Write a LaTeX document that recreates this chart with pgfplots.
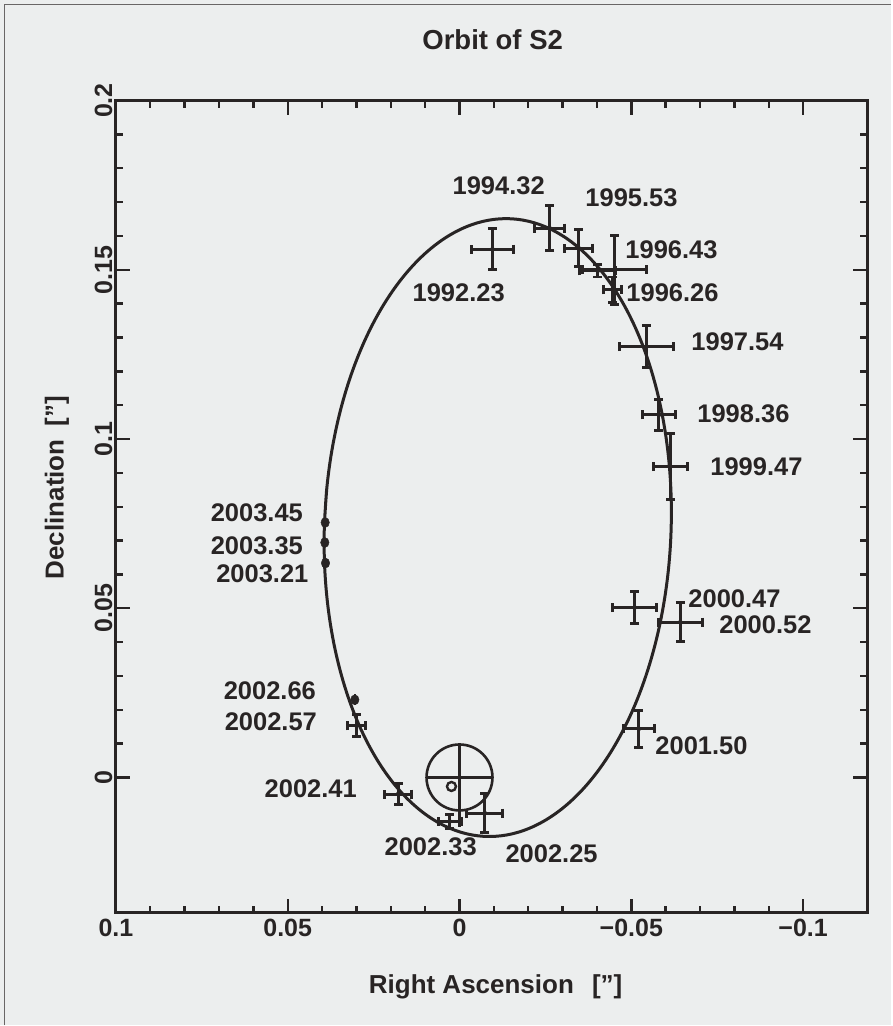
\documentclass[border=0pt]{standalone}
\usepackage{pgfplots}
\pgfplotsset{compat=1.18}
\usepackage{pgfplotstable}
\usepackage{fontspec}
\setmainfont{Liberation Sans}
\newcommand\heavy{\bfseries}
\definecolor{bg}{RGB}{236,238,238}
\definecolor{ink}{RGB}{40,36,36}

\pgfplotstableread{
x y ex ey
-0.00959 0.15610 0.0060 0.0061
-0.02625 0.16230 0.0044 0.0067
-0.03469 0.15640 0.0040 0.0054
-0.04516 0.14999 0.0093 0.0103
-0.04022 0.14968 0.0052 0.0018
-0.04458 0.14408 0.0026 0.0038
-0.05439 0.12733 0.0079 0.0061
-0.05805 0.10715 0.0047 0.0046
-0.06137 0.09188 0.0049 0.0097
-0.05098 0.05022 0.0064 0.0047
-0.06428 0.04591 0.0065 0.0058
-0.05223 0.01439 0.0045 0.0054
-0.00735 -0.01052 0.0053 0.0057
0.00284 -0.01300 0.0034 0.0021
0.01788 -0.00490 0.0040 0.0032
0.02998 0.01527 0.0026 0.0032
}\crosses

\pgfplotstableread{
x y ey
0.03900 0.06334 0.0012
0.03920 0.06942 0.0012
0.03910 0.07533 0.0012
0.03047 0.02295 0.0016
}\dots

\pgfplotstableread{
x y
0.039346 0.073840
0.038597 0.085755
0.036998 0.097467
0.034576 0.108773
0.031371 0.119483
0.027439 0.129411
0.022848 0.138388
0.017674 0.146261
0.012009 0.152895
0.005947 0.158176
-0.000407 0.162015
-0.006944 0.164344
-0.013553 0.165125
-0.020120 0.164344
-0.026533 0.162015
-0.032683 0.158176
-0.038465 0.152895
-0.043778 0.146261
-0.048532 0.138388
-0.052647 0.129411
-0.056051 0.119483
-0.058686 0.108773
-0.060508 0.097467
-0.061485 0.085755
-0.061600 0.073840
-0.060851 0.061925
-0.059252 0.050213
-0.056830 0.038907
-0.053625 0.028197
-0.049693 0.018269
-0.045102 0.009292
-0.039928 0.001419
-0.034263 -0.005215
-0.028201 -0.010496
-0.021847 -0.014335
-0.015310 -0.016664
-0.008701 -0.017445
-0.002134 -0.016664
0.004279 -0.014335
0.010429 -0.010496
0.016211 -0.005215
0.021524 0.001419
0.026278 0.009292
0.030393 0.018269
0.033797 0.028197
0.036432 0.038907
0.038254 0.050213
0.039231 0.061925
0.039346 0.073840
0.038597 0.085755
}\orbit

\begin{document}
\begin{tikzpicture}[x=1pt,y=1pt]
\fill[bg] (0,0) rectangle (892,1026);
\draw[ink!70, line width=1.5pt] (4.5,0) -- (4.5,1021.5) -- (892,1021.5);
\begin{axis}[
  at={(116pt,112.5pt)}, anchor=south west,
  scale only axis, width=752pt, height=812.8pt,
  x dir=reverse,
  xmin=-0.1187, xmax=0.1, ymin=-0.04, ymax=0.2,
  xtick={-0.1,-0.05,0,0.05,0.1},
  xticklabels={−0.1,−0.05,0,0.05,0.1},
  ytick={0,0.05,0.1,0.15,0.2},
  yticklabels={0,0.05,0.1,0.15,0.2},
  minor tick num=4,
  tick align=inside,
  major tick length=14pt, minor tick length=7pt,
  axis line style={ink, line width=3pt},
  every tick/.style={ink, line width=2.4pt},
  xticklabel style={font=\heavy\fontsize{25}{30}\selectfont, text=ink, yshift=-3pt},
  yticklabel style={font=\heavy\fontsize{25}{30}\selectfont, text=ink, rotate=90, anchor=south},
  axis background/.style={fill=bg},
]
\addplot[ink, line width=3pt, smooth, tension=0.6] table {\orbit};
\addplot[ink, only marks, mark=none,
  error bars/.cd, x dir=both, x explicit, y dir=both, y explicit,
  error bar style={line width=3pt, ink},
  error mark options={rotate=90, line width=3pt, mark size=4.5pt, ink}]
  table[x=x, y=y, x error=ex, y error=ey] {\crosses};
\addplot[ink, only marks, mark=*, mark size=5pt, mark options={xscale=0.85, fill=ink},
  error bars/.cd, y dir=both, y explicit,
  error bar style={line width=2.6pt, ink}, error mark=none]
  table[x=x, y=y, y error=ey] {\dots};
\addplot[ink, only marks, mark=o, mark size=33pt, mark options={line width=2.6pt},
  error bars/.cd, x dir=both, x fixed=0.0096, y dir=both, y explicit,
  error bar style={line width=2.6pt, ink}, error mark=none]
  coordinates {(0,0) -= (0,0.0145) += (0,0.0098)};
\addplot[ink, only marks, mark=o, mark size=4.5pt, mark options={line width=2.4pt}]
  coordinates {(0.00234,-0.00266)};
\end{axis}
\begin{scope}[font=\heavy\fontsize{25.5}{30}\selectfont, text=ink]
\node at (499,1026-186) {1994.32};
\node at (632,1026-198) {1995.53};
\node at (672,1026-250) {1996.43};
\node at (459,1026-292.5) {1992.23};
\node at (673,1026-292.5) {1996.26};
\node at (738,1026-342) {1997.54};
\node at (744,1026-414) {1998.36};
\node at (757,1026-467) {1999.47};
\node at (735,1026-599) {2000.47};
\node at (766,1026-625) {2000.52};
\node at (702,1026-746) {2001.50};
\node at (552,1026-854) {2002.25};
\node at (431,1026-847.5) {2002.33};
\node at (311,1026-789) {2002.41};
\node at (271,1026-722) {2002.57};
\node at (270,1026-691.5) {2002.66};
\node at (257,1026-513.5) {2003.45};
\node at (257,1026-546) {2003.35};
\node at (262.5,1026-574) {2003.21};
\end{scope}
\node[font=\heavy\fontsize{27.5}{34}\selectfont, text=ink] at (493,986) {Orbit of S2};
\node[font=\heavy\fontsize{26}{33}\selectfont, text=ink] at (496,38) {Right Ascension\hspace{0.7em}[\symbol{34}]};
\node[font=\heavy\fontsize{26}{33}\selectfont, text=ink, rotate=90] at (57,1026-488) {Declination\hspace{0.5em}[\symbol{34}]};
\end{tikzpicture}
\end{document}
